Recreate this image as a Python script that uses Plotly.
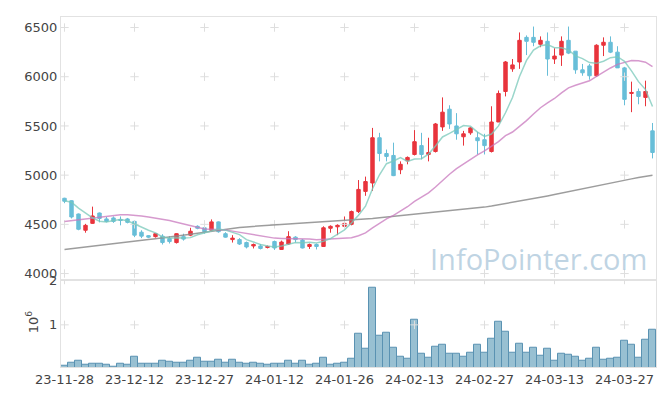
import plotly.graph_objects as go
from plotly.subplots import make_subplots

dates = [
    "23-11-28", "23-11-29", "23-11-30", "23-12-01", "23-12-04", "23-12-05", "23-12-06", "23-12-07", "23-12-08", "23-12-11",
    "23-12-12", "23-12-13", "23-12-14", "23-12-15", "23-12-18", "23-12-19", "23-12-20", "23-12-21", "23-12-22", "23-12-26",
    "23-12-27", "23-12-28", "24-01-02", "24-01-03", "24-01-04", "24-01-05", "24-01-08", "24-01-09", "24-01-10", "24-01-11",
    "24-01-12", "24-01-15", "24-01-16", "24-01-17", "24-01-18", "24-01-19", "24-01-22", "24-01-23", "24-01-24", "24-01-25",
    "24-01-26", "24-01-29", "24-01-30", "24-01-31", "24-02-01", "24-02-02", "24-02-05", "24-02-06", "24-02-07", "24-02-08",
    "24-02-13", "24-02-14", "24-02-15", "24-02-16", "24-02-19", "24-02-20", "24-02-21", "24-02-22", "24-02-23", "24-02-26",
    "24-02-27", "24-02-28", "24-02-29", "24-03-04", "24-03-05", "24-03-06", "24-03-07", "24-03-08", "24-03-11", "24-03-12",
    "24-03-13", "24-03-14", "24-03-15", "24-03-18", "24-03-19", "24-03-20", "24-03-21", "24-03-22", "24-03-25", "24-03-26",
    "24-03-27", "24-03-28", "24-03-29", "24-04-01", "24-04-02",
]

open_ = [4765, 4740, 4605, 4440, 4510, 4615, 4555, 4565, 4550, 4555,
         4530, 4420, 4385, 4375, 4380, 4355, 4315, 4375, 4390, 4480,
         4465, 4440, 4525, 4405, 4345, 4345, 4315, 4280, 4280, 4265,
         4325, 4245, 4300, 4370, 4340, 4275, 4295, 4275, 4460, 4475,
         4480, 4500, 4630, 4835, 4920, 5380, 5220, 5200, 5055, 5145,
         5210, 5300, 5210, 5240, 5490, 5670, 5500, 5390, 5430, 5380,
         5360, 5240, 5540, 5850, 6080, 6150, 6400, 6400, 6330, 6360,
         6180, 6220, 6370, 6260, 6070, 6110, 6010, 6320, 6350, 6250,
         6090, 5830, 5850, 5790, 5450]
high = [4770, 4745, 4610, 4505, 4680, 4620, 4575, 4580, 4580, 4565,
        4540, 4440, 4390, 4405, 4400, 4380, 4410, 4405, 4465, 4490,
        4505, 4550, 4530, 4420, 4390, 4360, 4325, 4305, 4300, 4285,
        4335, 4335, 4430, 4380, 4350, 4305, 4305, 4480, 4490, 4500,
        4580, 4640, 4950, 4985, 5480, 5430, 5260, 5330, 5140, 5190,
        5470, 5430, 5380, 5530, 5790, 5710, 5630, 5450, 5490, 5440,
        5420, 5700, 5860, 6160, 6180, 6450, 6420, 6510, 6410, 6450,
        6290, 6410, 6510, 6260, 6130, 6130, 6330, 6400, 6410, 6310,
        6100, 5950, 5880, 5960, 5530]
low = [4715, 4560, 4440, 4415, 4505, 4520, 4520, 4515, 4490, 4510,
       4370, 4360, 4360, 4365, 4295, 4305, 4305, 4335, 4380, 4450,
       4405, 4430, 4415, 4365, 4315, 4290, 4255, 4255, 4245, 4255,
       4240, 4240, 4290, 4315, 4255, 4250, 4245, 4270, 4415, 4390,
       4475, 4490, 4615, 4790, 4840, 5140, 5140, 4990, 5010, 5110,
       5200, 5160, 5140, 5230, 5450, 5470, 5360, 5300, 5410, 5210,
       5210, 5230, 5540, 5800, 6050, 6080, 6220, 6310, 6300, 6010,
       6130, 6110, 6230, 6030, 6010, 5970, 6000, 6210, 6240, 6090,
       5710, 5640, 5720, 5700, 5170]
close = [4735, 4575, 4450, 4490, 4585, 4560, 4530, 4530, 4540, 4520,
         4390, 4380, 4370, 4405, 4315, 4325, 4405, 4350, 4430, 4460,
         4425, 4525, 4425, 4370, 4360, 4300, 4270, 4295, 4255, 4275,
         4260, 4320, 4375, 4345, 4260, 4295, 4275, 4465, 4480, 4490,
         4510, 4630, 4855, 4935, 5380, 5220, 5190, 4995, 5110, 5180,
         5340, 5210, 5230, 5520, 5640, 5520, 5420, 5420, 5480, 5350,
         5300, 5540, 5830, 6150, 6120, 6370, 6360, 6350, 6370, 6180,
         6210, 6360, 6240, 6070, 6040, 6010, 6320, 6350, 6250, 6090,
         5770, 5840, 5800, 5850, 5230]

ma5 = [4740, 4725, 4665, 4615, 4567, 4532, 4523, 4539, 4549, 4536,
       4502, 4472, 4440, 4413, 4372, 4359, 4364, 4360, 4365, 4394,
       4414, 4438, 4453, 4441, 4421, 4396, 4345, 4319, 4296, 4279,
       4271, 4281, 4297, 4315, 4312, 4319, 4310, 4328, 4355, 4401,
       4444, 4515, 4593, 4684, 4862, 5004, 5116, 5144, 5179, 5139,
       5163, 5167, 5214, 5296, 5388, 5424, 5466, 5504, 5496, 5438,
       5394, 5418, 5500, 5634, 5788, 6002, 6166, 6270, 6314, 6326,
       6294, 6294, 6272, 6212, 6184, 6144, 6136, 6158, 6194, 6204,
       6156, 6060, 5950, 5870, 5698]
ma20 = [4530, 4538, 4545, 4553, 4560, 4570, 4580, 4590, 4598, 4598,
        4593, 4585, 4575, 4565, 4553, 4538, 4522, 4505, 4485, 4467,
        4452, 4449, 4448, 4442, 4431, 4418, 4405, 4393, 4379, 4367,
        4360, 4357, 4357, 4354, 4352, 4350, 4344, 4349, 4352, 4353,
        4358, 4363, 4384, 4413, 4464, 4510, 4556, 4591, 4633, 4679,
        4733, 4777, 4820, 4879, 4948, 5009, 5066, 5114, 5164, 5207,
        5246, 5292, 5341, 5401, 5438, 5496, 5554, 5622, 5685, 5735,
        5779, 5836, 5887, 5914, 5934, 5959, 6004, 6050, 6089, 6126,
        6149, 6164, 6163, 6148, 6103]
ma120 = [4245, 4254, 4262, 4271, 4280, 4288, 4297, 4305, 4314, 4322,
         4330, 4338, 4346, 4354, 4362, 4370, 4380, 4390, 4400, 4410,
         4420, 4432, 4444, 4454, 4462, 4468, 4474, 4480, 4486, 4491,
         4496, 4500, 4504, 4508, 4512, 4516, 4520, 4524, 4528, 4532,
         4537, 4542, 4547, 4553, 4559, 4566, 4573, 4580, 4588, 4596,
         4604, 4611, 4617, 4623, 4629, 4635, 4641, 4648, 4656, 4665,
         4675, 4686, 4698, 4710, 4722, 4735, 4748, 4761, 4775, 4789,
         4803, 4818, 4833, 4848, 4863, 4878, 4892, 4906, 4920, 4934,
         4948, 4962, 4975, 4988, 5000]

volume = [96000, 160000, 210000, 100000, 140000, 140000, 100000, 75000, 140000, 100000,
          290000, 140000, 140000, 140000, 210000, 180000, 160000, 160000, 210000, 270000,
          180000, 180000, 230000, 160000, 230000, 160000, 140000, 160000, 140000, 120000,
          140000, 140000, 210000, 140000, 210000, 100000, 140000, 270000, 100000, 140000,
          160000, 250000, 800000, 470000, 1830000, 750000, 820000, 490000, 290000, 250000,
          1120000, 360000, 270000, 510000, 560000, 360000, 360000, 290000, 380000, 560000,
          380000, 690000, 1080000, 840000, 380000, 580000, 380000, 490000, 310000, 470000,
          210000, 360000, 340000, 290000, 210000, 250000, 490000, 230000, 250000, 270000,
          640000, 560000, 270000, 660000, 880000]

price_ticks = [4000, 4500, 5000, 5500, 6000, 6500]
volume_ticks = [1000000, 2000000]
volume_tick_text = ["1", "2"]
x_ticks = dates[::10]

RED = "#e8343c"
BLUE = "#68bed8"
GRID = "#dedede"

fig = make_subplots(rows=2, cols=1, shared_xaxes=True, vertical_spacing=0,
                    row_heights=[0.7507, 0.2493])

fig.add_trace(go.Candlestick(
    x=dates, open=open_, high=high, low=low, close=close,
    increasing=dict(line=dict(color=RED, width=1), fillcolor=RED),
    decreasing=dict(line=dict(color=BLUE, width=1), fillcolor=BLUE),
    whiskerwidth=0, hoverinfo="skip"), row=1, col=1)

fig.add_trace(go.Bar(x=dates, y=volume, width=1.0,
                     marker=dict(color="#98c0d2", line=dict(color="#5a92b2", width=1))),
              row=2, col=1)

# grid "+" marks at tick intersections
gx, gy = [], []
for xv in x_ticks:
    for yv in price_ticks:
        gx.append(xv); gy.append(yv)
fig.add_trace(go.Scatter(x=gx, y=gy, mode="markers", hoverinfo="skip",
                         marker=dict(symbol="cross-thin", size=6, line=dict(color=GRID, width=1))),
              row=1, col=1)
gx2, gy2 = [], []
for xv in x_ticks:
    for yv in volume_ticks:
        gx2.append(xv); gy2.append(yv)
fig.add_trace(go.Scatter(x=gx2, y=gy2, mode="markers", hoverinfo="skip",
                         marker=dict(symbol="cross-thin", size=6, line=dict(color=GRID, width=1))),
              row=2, col=1)

fig.add_trace(go.Scatter(x=dates, y=ma120, mode="lines",
                         line=dict(color="rgba(140,140,140,0.85)", width=1.5)), row=1, col=1)
fig.add_trace(go.Scatter(x=dates, y=ma20, mode="lines",
                         line=dict(color="rgba(200,120,190,0.75)", width=1.5)), row=1, col=1)
fig.add_trace(go.Scatter(x=dates, y=ma5, mode="lines",
                         line=dict(color="rgba(120,200,185,0.75)", width=1.5)), row=1, col=1)

axis_font = dict(family="DejaVu Sans", size=13, color="#444444")
fig.update_xaxes(type="category", categoryorder="array", categoryarray=dates,
                 range=[-0.5, len(dates) - 0.5], showgrid=False,
                 zeroline=False, showline=True, linecolor="#e2e2e2", linewidth=1, mirror=True,
                 tickmode="array", tickvals=x_ticks, ticktext=x_ticks, ticks="", tickangle=0,
                 tickfont=axis_font, rangeslider=dict(visible=False))
fig.update_xaxes(showticklabels=False, row=1, col=1)
fig.update_yaxes(range=[3937, 6607], tickvals=price_ticks, showgrid=False, zeroline=False,
                 showline=True, linecolor="#e2e2e2", mirror=True, ticks="", tickfont=axis_font,
                 row=1, col=1)
fig.update_yaxes(range=[60000, 2006000], tickvals=volume_ticks, ticktext=volume_tick_text,
                 showgrid=False, zeroline=False, showline=True, linecolor="#e2e2e2", mirror=True,
                 ticks="", tickfont=axis_font, row=2, col=1)

fig.add_annotation(text="10<sup>6</sup>", xref="paper", yref="paper", x=-0.049, y=0.13,
                   textangle=-90, showarrow=False, font=axis_font, xanchor="center", yanchor="middle")
fig.add_annotation(text="InfoPointer.com", xref="paper", yref="paper", x=0.988, y=0.31,
                   showarrow=False, xanchor="right", yanchor="middle",
                   font=dict(family="Open Sans", size=29, color="rgba(170,198,218,0.75)"))

# page body has an 8px default margin, so the figure is sized to fit the window
fig.update_layout(width=657, height=388, margin=dict(l=53, r=9, t=2, b=29),
                  paper_bgcolor="white", plot_bgcolor="white", showlegend=False,
                  barmode="overlay", bargap=0)

fig.write_html("out.html")
